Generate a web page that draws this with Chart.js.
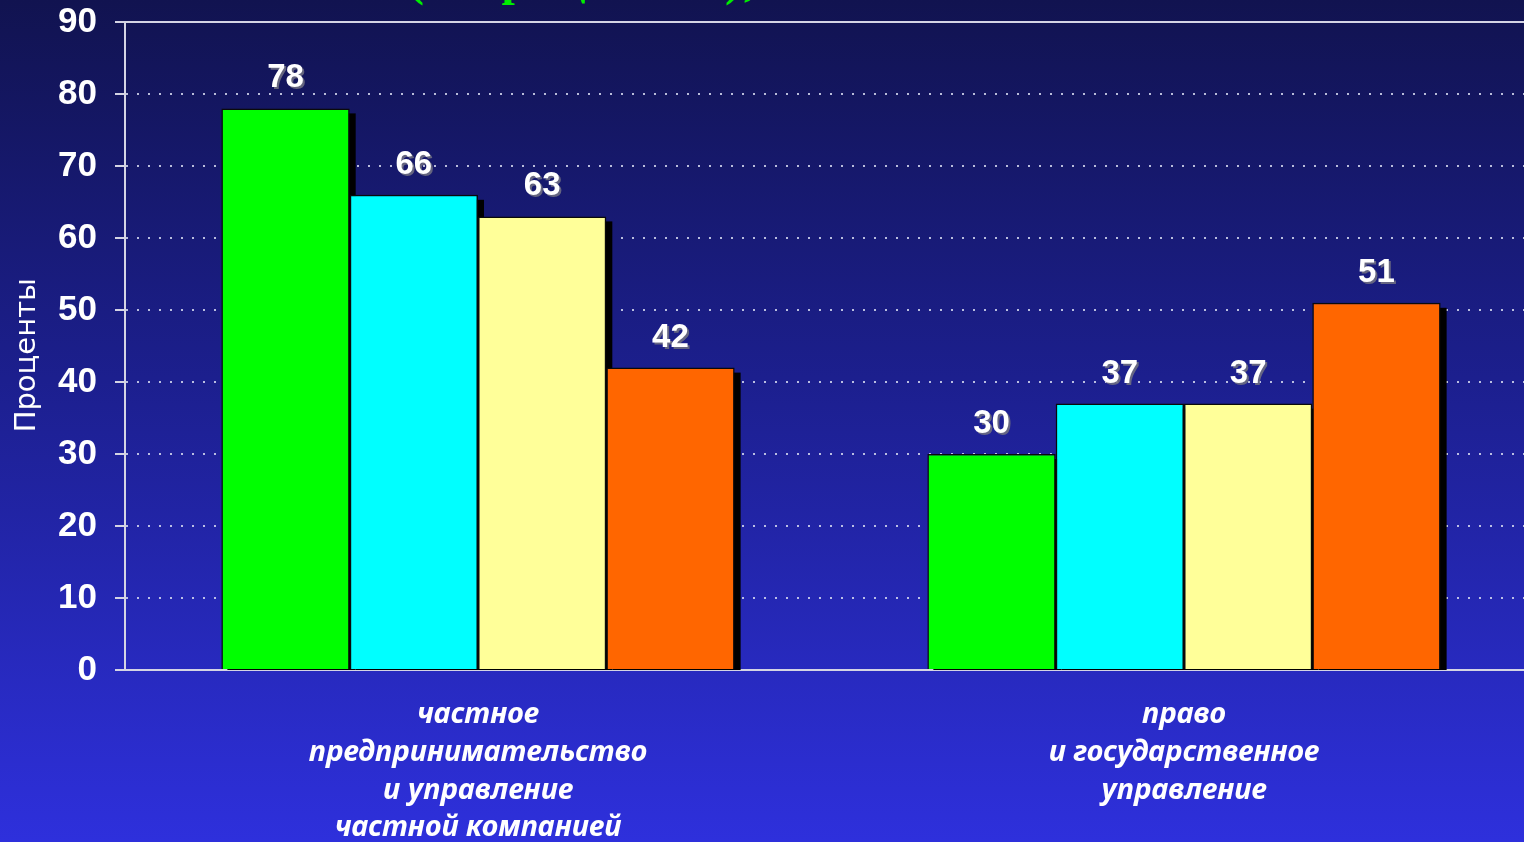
<!DOCTYPE html>
<html>
<head>
<meta charset="utf-8">
<script src="https://cdn.jsdelivr.net/npm/chart.js@4/dist/chart.umd.min.js"></script>
<style>
  html, body { margin: 0; padding: 0; overflow: hidden; }
  body { width: 1524px; height: 842px; background: linear-gradient(#111350, #1c1f8e 45%, #2e30dc); }
  #wrap { position: relative; width: 1537px; height: 842px; }
</style>
</head>
<body>
<div id="wrap"><canvas id="chartAreas"></canvas></div>
<script>
const categorias = [
    ['частное', 'предпринимательство', 'и управление', 'частной компанией'],
    ['право', 'и государственное', 'управление']
];
const serie1 = [78, 30];
const serie2 = [66, 37];
const serie3 = [63, 37];
const serie4 = [42, 51];
const colores = ['#00ff00', '#00ffff', '#ffff99', '#ff6600'];
const ticksY = [0, 10, 20, 30, 40, 50, 60, 70, 80, 90];

const sombraBarras = {
    id: 'sombraBarras',
    beforeDatasetsDraw(chart) {
        // sombra negra detras de todas las barras
        const ctx = chart.ctx;
        const area = chart.chartArea;
        ctx.save();
        ctx.beginPath();
        ctx.rect(area.left, area.top - 40, area.right - area.left + 20, area.bottom - area.top + 40);
        ctx.clip();
        ctx.fillStyle = '#000';
        chart.data.datasets.forEach((ds, i) => {
            chart.getDatasetMeta(i).data.forEach(bar => {
                const p = bar.getProps(['x', 'y', 'base', 'width'], true);
                ctx.fillRect(p.x - p.width / 2 + 6, p.y + 5, p.width, p.base - p.y);
            });
        });
        ctx.restore();
    },
    afterDatasetsDraw(chart) {
        // valores encima de cada barra
        const ctx = chart.ctx;
        ctx.save();
        ctx.font = 'bold 33px "Liberation Sans", Arial, sans-serif';
        ctx.textAlign = 'center';
        ctx.textBaseline = 'alphabetic';
        chart.data.datasets.forEach((ds, i) => {
            chart.getDatasetMeta(i).data.forEach((bar, j) => {
                const txt = String(ds.data[j]);
                ctx.fillStyle = 'rgba(110,110,130,0.9)';
                ctx.fillText(txt, bar.x + 2, bar.y - 19);
                ctx.fillStyle = '#ffffff';
                ctx.fillText(txt, bar.x, bar.y - 21);
            });
        });
        ctx.restore();
    },
    afterDraw(chart) {
        // titulo cortado arriba
        const ctx = chart.ctx;
        ctx.save();
        ctx.font = 'bold 48px "Liberation Serif", serif';
        ctx.fillStyle = '#00ee00';
        ctx.textAlign = 'left';
        ctx.textBaseline = 'alphabetic';
        ctx.letterSpacing = '3px';
        ctx.fillText('(в процентах),', 408, -5);
        ctx.restore();
    }
};

const chartAreas = new Chart(document.getElementById('chartAreas'), {
    type: 'bar',
    data: {
        labels: categorias,
        datasets: [
            { label: 'Серия 1', data: serie1, backgroundColor: colores[0] },
            { label: 'Серия 2', data: serie2, backgroundColor: colores[1] },
            { label: 'Серия 3', data: serie3, backgroundColor: colores[2] },
            { label: 'Серия 4', data: serie4, backgroundColor: colores[3] }
        ]
    },
    options: {
        responsive: true,
        maintainAspectRatio: false,
        animation: false,
        layout: { padding: { top: 22, left: 0, right: 0, bottom: 0 } },
        datasets: {
            bar: {
                borderColor: '#0a0a0a',
                borderWidth: 1.5,
                barPercentage: 1.0,
                categoryPercentage: 0.727
            }
        },
        plugins: {
            legend: { display: false },
            tooltip: { enabled: false }
        },
        scales: {
            x: {
                grid: { display: false, drawTicks: false },
                border: { display: false },
                ticks: {
                    color: '#ffffff',
                    padding: 26,
                    maxRotation: 0,
                    autoSkip: false,
                    font: { family: '"Noto Sans", sans-serif', size: 29, style: 'italic', weight: 'bold', lineHeight: 1.3 }
                },
                afterFit(scale) { scale.height = 172; scale.paddingLeft = 0; scale.paddingRight = 0; }
            },
            y: {
                min: 0,
                max: 90,
                afterBuildTicks(scale) { scale.ticks = ticksY.map(v => ({ value: v })); },
                grid: {
                    color: (c) => (c.tick && (c.tick.value === 0 || c.tick.value === 90)) ? '#d4d4e4' : 'rgba(215,218,240,0.85)',
                    lineWidth: 2,
                    tickLength: 10,
                    tickColor: '#d4d4e4',
                    tickWidth: 2,
                    tickBorderDash: []
                },
                border: {
                    display: true,
                    color: '#d4d4e4',
                    width: 2,
                    dash: (c) => (c.tick && c.tick.value !== 0 && c.tick.value !== 90) ? [2, 9] : []
                },
                ticks: {
                    color: '#ffffff',
                    padding: 18,
                    font: { family: '"Liberation Sans", Arial, sans-serif', size: 35, weight: 'bold' }
                },
                title: {
                    display: true,
                    text: 'Проценты\u00A0\u00A0',
                    color: '#ffffff',
                    padding: { top: 10, bottom: 0 },
                    font: { family: '"DejaVu Sans", sans-serif', size: 29 }
                },
                afterFit(scale) { scale.width = 125; scale.paddingTop = 0; scale.paddingBottom = 0; }
            }
        }
    },
    plugins: [sombraBarras]
});
</script>
</body>
</html>
